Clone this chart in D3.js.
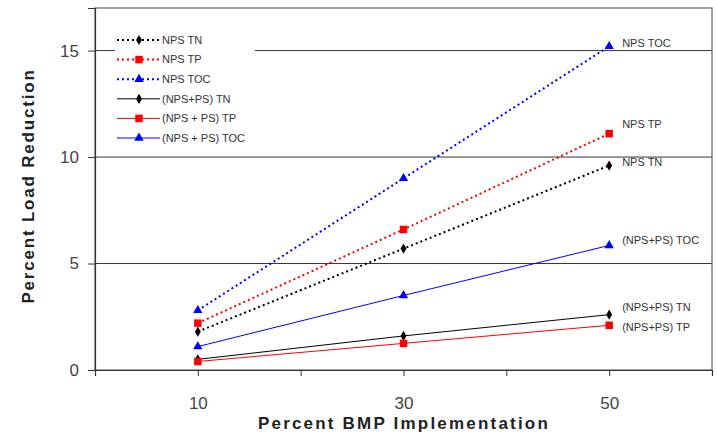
<!DOCTYPE html>
<html>
<head>
<meta charset="utf-8">
<script src="https://cdn.jsdelivr.net/npm/d3@7"></script>
<style>
  body { margin: 0; background: #fff; }
  svg { font-family: Arial, "Liberation Sans", sans-serif; }
</style>
</head>
<body>
<div id="chart"></div>
<script>
// values
const bmpLevels = [10, 30, 50];
const npsTN = [1.8, 5.7, 9.6];
const npsTP = [2.2, 6.6, 11.1];
const npsTOC = [2.8, 9.0, 15.2];
const totTN = [0.5, 1.6, 2.6];
const totTP = [0.4, 1.25, 2.1];
const totTOC = [1.1, 3.5, 5.85];
const xTickLabels = [10, 30, 50];
const yTickLabels = [0, 5, 10, 15];

const seriesList = [
    {name: "NPS TN", end: "NPS TN", values: npsTN, color: "#000", shape: "diamond", dotted: true},
    {name: "NPS TP", end: "NPS TP", values: npsTP, color: "#f00", shape: "square", dotted: true},
    {name: "NPS TOC", end: "NPS TOC", values: npsTOC, color: "#00f", shape: "triangle", dotted: true},
    {name: "(NPS+PS) TN", end: "(NPS+PS) TN", values: totTN, color: "#000", shape: "diamond", dotted: false},
    {name: "(NPS + PS) TP", end: "(NPS+PS) TP", values: totTP, color: "#f00", shape: "square", dotted: false},
    {name: "(NPS + PS) TOC", end: "(NPS+PS) TOC", values: totTOC, color: "#00f", shape: "triangle", dotted: false}
];

const margin = {top: 8, right: 5, bottom: 64, left: 95};
const width = 717 - margin.left - margin.right;
const height = 434 - margin.top - margin.bottom;

const svg = d3.select("#chart")
    .append("svg")
    .attr("width", 717)
    .attr("height", 434)
    .append("g")
    .attr("transform", `translate(${margin.left},${margin.top})`);

const x = d3.scaleLinear().domain([0, 60]).range([0, width]);
const y = d3.scaleLinear().domain([0, 17]).range([height, 0]);

// grid lines
svg.selectAll(".grid")
    .data(yTickLabels.filter(d => d > 0))
    .enter()
    .append("line")
    .attr("x1", 0)
    .attr("x2", width)
    .attr("y1", d => y(d))
    .attr("y2", d => y(d))
    .attr("stroke", "#333")
    .attr("stroke-width", 1);

// plot box
svg.append("rect")
    .attr("width", width)
    .attr("height", height)
    .attr("fill", "none")
    .attr("stroke", "#666")
    .attr("stroke-width", 1.2);

const xAxis = svg.append("g")
    .attr("transform", `translate(0,${height})`)
    .call(d3.axisBottom(x)
        .tickValues([10, 20, 30, 40, 50, 60])
        .tickSize(6)
        .tickFormat(d => xTickLabels.includes(d) ? d : ""));
xAxis.select(".domain").attr("stroke", "#333").attr("stroke-width", 1.2);
xAxis.selectAll("line").attr("stroke", "#333");
xAxis.selectAll("text")
    .attr("dy", "1.75em")
    .attr("fill", "#444")
    .style("font-size", "17px")
    .style("font-family", "Arial, sans-serif");

const yAxis = svg.append("g")
    .call(d3.axisLeft(y).tickValues(yTickLabels).tickSize(7));
yAxis.select(".domain").attr("stroke", "#333").attr("stroke-width", 1.2);
yAxis.selectAll("line").attr("stroke", "#333");
yAxis.selectAll("text")
    .attr("x", -16)
    .attr("fill", "#444")
    .style("font-size", "17px")
    .style("font-family", "Arial, sans-serif");

const symbolFor = {
    diamond: d3.symbol().type(d3.symbolDiamond).size(30),
    square: d3.symbol().type(d3.symbolSquare).size(56),
    triangle: d3.symbol().type(d3.symbolTriangle).size(38)
};

const line = d3.line()
    .x((d, i) => x(bmpLevels[i]))
    .y(d => y(d));

seriesList.forEach(s => {
    svg.append("path")
        .datum(s.values)
        .attr("d", line)
        .attr("fill", "none")
        .attr("stroke", s.color)
        .attr("stroke-width", s.dotted ? 2 : 1)
        .attr("stroke-dasharray", s.dotted ? "2,3" : null);

    svg.selectAll(null)
        .data(s.values)
        .enter()
        .append("path")
        .attr("d", symbolFor[s.shape])
        .attr("transform", (d, i) => `translate(${x(bmpLevels[i])},${y(d)})`)
        .attr("fill", s.color);
});

// end labels
const endOffsets = {"NPS TOC": -3, "NPS TP": -9, "NPS TN": -3, "(NPS+PS) TOC": -5, "(NPS+PS) TN": -7, "(NPS+PS) TP": 2};
seriesList.forEach(s => {
    const last = s.values[s.values.length - 1];
    svg.append("text")
        .attr("x", x(bmpLevels[bmpLevels.length - 1]) + 13)
        .attr("y", y(last) + endOffsets[s.end])
        .attr("dy", "0.35em")
        .attr("fill", "#333")
        .style("font-size", "11px")
        .text(s.end);
});

// legend
const legend = svg.append("g").attr("transform", "translate(20,22)");
legend.append("rect")
    .attr("x", 0)
    .attr("y", 0)
    .attr("width", 140)
    .attr("height", 120)
    .attr("fill", "#fff");

seriesList.forEach((s, i) => {
    const row = legend.append("g").attr("transform", `translate(0,${10 + i * 19.6})`);
    row.append("line")
        .attr("x1", 2)
        .attr("x2", 45)
        .attr("stroke", s.color)
        .attr("stroke-width", s.dotted ? 2 : 1)
        .attr("stroke-dasharray", s.dotted ? "2,3" : null);
    row.append("path")
        .attr("d", symbolFor[s.shape])
        .attr("transform", "translate(24,0)")
        .attr("fill", s.color);
    row.append("text")
        .attr("x", 47)
        .attr("dy", "0.35em")
        .attr("fill", "#333")
        .style("font-size", "11px")
        .text(s.name);
});

// axis titles
svg.append("text")
    .attr("text-anchor", "middle")
    .attr("transform", "rotate(-90)")
    .attr("x", -178)
    .attr("y", -61)
    .attr("fill", "#222")
    .style("font-size", "17px")
    .style("font-weight", "bold")
    .style("letter-spacing", "1.8px")
    .text("Percent Load Reduction");

svg.append("text")
    .attr("text-anchor", "middle")
    .attr("x", 309)
    .attr("y", height + 59)
    .attr("fill", "#222")
    .style("font-size", "17px")
    .style("font-weight", "bold")
    .style("letter-spacing", "2.2px")
    .text("Percent BMP Implementation");
</script>
</body>
</html>
